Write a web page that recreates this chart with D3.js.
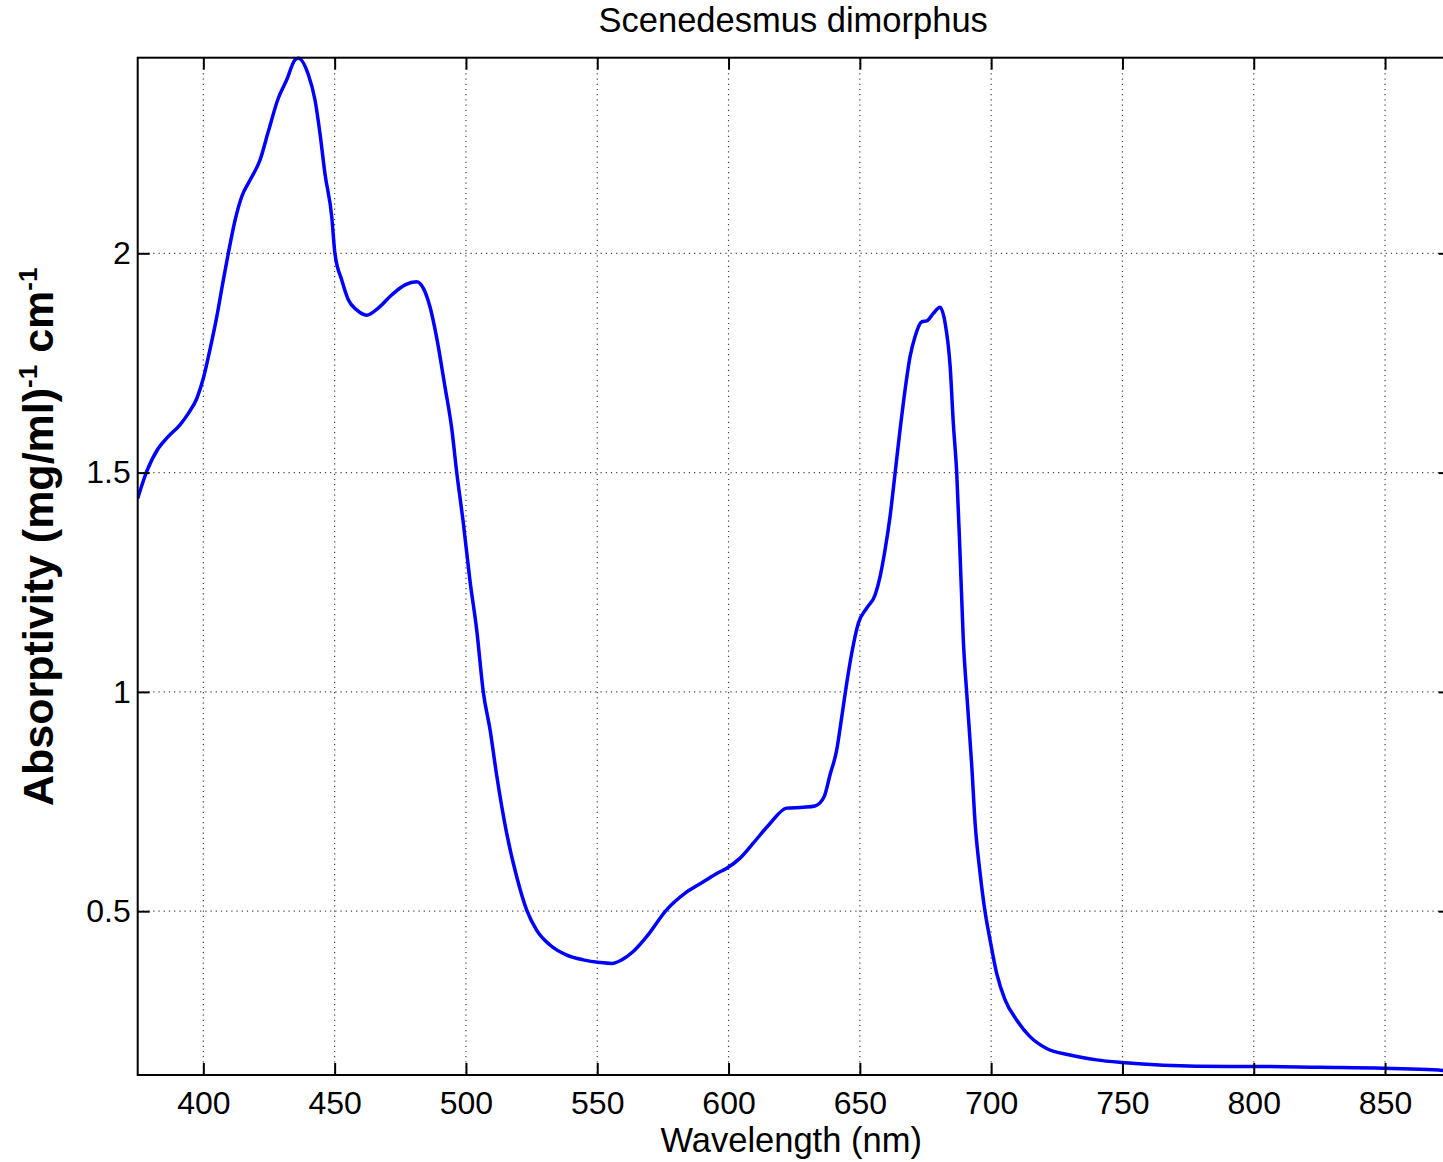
<!DOCTYPE html>
<html>
<head>
<meta charset="utf-8">
<script src="https://cdn.jsdelivr.net/npm/d3@7"></script>
<style>
  body { margin: 0; background: #fff; }
  text { font-family: "Liberation Sans", Arial, sans-serif; fill: #000; }
</style>
</head>
<body>
<div id="chart"></div>
<script>
// values
var wavelength = [375.0, 378.4, 382.8, 386.6, 391.1, 394.3, 397.5, 400.0, 402.5, 405.1,
  407.6, 409.5, 412.1, 414.6, 417.8, 421.6, 424.7, 428.5, 431.7, 434.9,
  436.2, 440.0, 442.5, 444.4, 446.3, 448.9, 450.1, 452.7, 455.2, 458.4,
  462.2, 466.6, 471.7, 476.8, 481.2, 483.8, 486.3, 488.9, 492.0, 494.6,
  496.5, 499.0, 501.5, 504.1, 506.6, 509.2, 511.7, 515.5, 519.3, 523.1,
  526.9, 532.0, 538.4, 544.7, 551.0, 555.5, 559.3, 563.7, 568.8, 576.4,
  584.1, 590.4, 595.5, 599.3, 604.4, 609.4, 615.8, 622.1, 628.5, 632.9,
  636.4, 638.6, 641.2, 643.1, 645.0, 646.9, 649.4, 652.6, 655.8, 657.7,
  659.6, 661.5, 663.4, 665.3, 667.2, 669.1, 671.0, 673.6, 675.5, 678.0,
  680.5, 682.5, 684.4, 685.6, 686.9, 688.2, 689.4, 690.7, 692.6, 693.9,
  695.8, 697.7, 699.6, 702.1, 705.3, 709.7, 714.8, 721.1, 730.0, 740.2,
  749.8, 765.5, 791.0, 800.0, 825.0, 849.3, 860.0, 872.0, 875.0];
var absorptivity = [1.441, 1.502, 1.555, 1.582, 1.609, 1.635, 1.669, 1.715, 1.780, 1.855,
  1.939, 2.000, 2.076, 2.129, 2.167, 2.213, 2.277, 2.353, 2.395, 2.441,
  2.445, 2.407, 2.350, 2.274, 2.182, 2.083, 2.000, 1.939, 1.894, 1.871,
  1.859, 1.875, 1.905, 1.928, 1.935, 1.920, 1.878, 1.806, 1.696, 1.600,
  1.500, 1.385, 1.255, 1.141, 1.000, 0.913, 0.810, 0.678, 0.579, 0.503,
  0.457, 0.423, 0.400, 0.389, 0.383, 0.381, 0.389, 0.408, 0.442, 0.503,
  0.544, 0.567, 0.586, 0.598, 0.621, 0.655, 0.700, 0.735, 0.737, 0.740,
  0.761, 0.810, 0.868, 0.943, 1.020, 1.088, 1.156, 1.191, 1.221, 1.263,
  1.324, 1.400, 1.498, 1.597, 1.688, 1.764, 1.810, 1.844, 1.846, 1.863,
  1.877, 1.840, 1.741, 1.612, 1.498, 1.308, 1.118, 0.997, 0.833, 0.700,
  0.586, 0.498, 0.434, 0.358, 0.298, 0.252, 0.214, 0.187, 0.172, 0.161,
  0.155, 0.149, 0.146, 0.146, 0.144, 0.142, 0.140, 0.137, 0.134];
var xTicks = [400, 450, 500, 550, 600, 650, 700, 750, 800, 850];
var yTicks = [0.5, 1, 1.5, 2];

var width = 1443;
var height = 1162;
var plotLeft = 137.7, plotRight = 1450.7, plotTop = 57.7, plotBottom = 1075;
var tickLen = 12;

var points = wavelength.map(function(w, i){ return {w: w, a: absorptivity[i]}; });

var x = d3.scaleLinear().domain([375, 875]).range([plotLeft, plotRight]);
var y = d3.scaleLinear().domain([0.1265, 2.446]).range([plotBottom, plotTop]);

var svg = d3.select("#chart").append("svg")
  .attr("width", width)
  .attr("height", height);

svg.append("clipPath").attr("id", "plotclip")
  .append("rect")
  .attr("x", plotLeft).attr("y", plotTop - 2)
  .attr("width", plotRight - plotLeft).attr("height", plotBottom - plotTop + 2);

// dotted grid
var grid = svg.append("g");
grid.selectAll(".vgrid").data(xTicks).enter().append("line")
  .attr("x1", function(d){ return x(d); })
  .attr("x2", function(d){ return x(d); })
  .attr("y1", plotTop).attr("y2", plotBottom)
  .attr("stroke", "#444").attr("stroke-width", 1.2)
  .attr("stroke-dasharray", "1.2,4");
grid.selectAll(".hgrid").data(yTicks).enter().append("line")
  .attr("y1", function(d){ return y(d); })
  .attr("y2", function(d){ return y(d); })
  .attr("x1", plotLeft).attr("x2", plotRight)
  .attr("stroke", "#444").attr("stroke-width", 1.2)
  .attr("stroke-dasharray", "1.2,4");

// spectrum
var line = d3.line()
  .x(function(d){ return x(d.w); })
  .y(function(d){ return y(d.a); })
  .curve(d3.curveMonotoneX);

svg.append("path")
  .datum(points)
  .attr("clip-path", "url(#plotclip)")
  .attr("d", line)
  .attr("fill", "none")
  .attr("stroke", "#0000ff")
  .attr("stroke-width", 3.5)
  .attr("stroke-linejoin", "round");

// axes, ticks pointing inward on all four sides
var fmt = function(d){ return String(d); };
svg.append("g").attr("transform", "translate(0," + plotBottom + ")")
  .call(d3.axisBottom(x).tickValues(xTicks).tickSizeInner(-tickLen).tickSizeOuter(0).tickPadding(16).tickFormat(fmt));
svg.append("g").attr("transform", "translate(0," + plotTop + ")")
  .call(d3.axisTop(x).tickValues(xTicks).tickSizeInner(-tickLen).tickSizeOuter(0).tickFormat(""));
svg.append("g").attr("transform", "translate(" + plotLeft + ",0)")
  .call(d3.axisLeft(y).tickValues(yTicks).tickSizeInner(-tickLen).tickSizeOuter(0).tickPadding(7).tickFormat(fmt));
svg.append("g").attr("transform", "translate(" + plotRight + ",0)")
  .call(d3.axisRight(y).tickValues(yTicks).tickSizeInner(-tickLen).tickSizeOuter(0).tickFormat(""));

svg.selectAll(".domain").remove();
svg.selectAll(".tick line").attr("stroke", "#000").attr("stroke-width", 2);
svg.selectAll(".tick text")
  .style("font-family", "'Liberation Sans', Arial, sans-serif")
  .style("font-size", "32px")
  .attr("fill", "#000");

svg.append("rect")
  .attr("x", plotLeft).attr("y", plotTop)
  .attr("width", plotRight - plotLeft).attr("height", plotBottom - plotTop)
  .attr("fill", "none").attr("stroke", "#000").attr("stroke-width", 2);

// titles
svg.append("text")
  .attr("x", (plotLeft + plotRight) / 2 - 1).attr("y", 32)
  .attr("text-anchor", "middle")
  .style("font-size", "34.5px")
  .text("Scenedesmus dimorphus");

svg.append("text")
  .attr("x", (plotLeft + plotRight) / 2 - 3).attr("y", 1152)
  .attr("text-anchor", "middle")
  .style("font-size", "34.5px")
  .text("Wavelength (nm)");

var ylab = svg.append("text")
  .attr("transform", "translate(53,806) rotate(-90)")
  .attr("text-anchor", "start")
  .style("font-size", "43px")
  .style("font-weight", "bold");
ylab.append("tspan").text("Absorptivity (mg/ml)");
ylab.append("tspan").attr("dy", -16).style("font-size", "26px").text("-1");
ylab.append("tspan").attr("dy", 16).text(" cm");
ylab.append("tspan").attr("dy", -16).style("font-size", "26px").text("-1");
</script>
</body>
</html>
